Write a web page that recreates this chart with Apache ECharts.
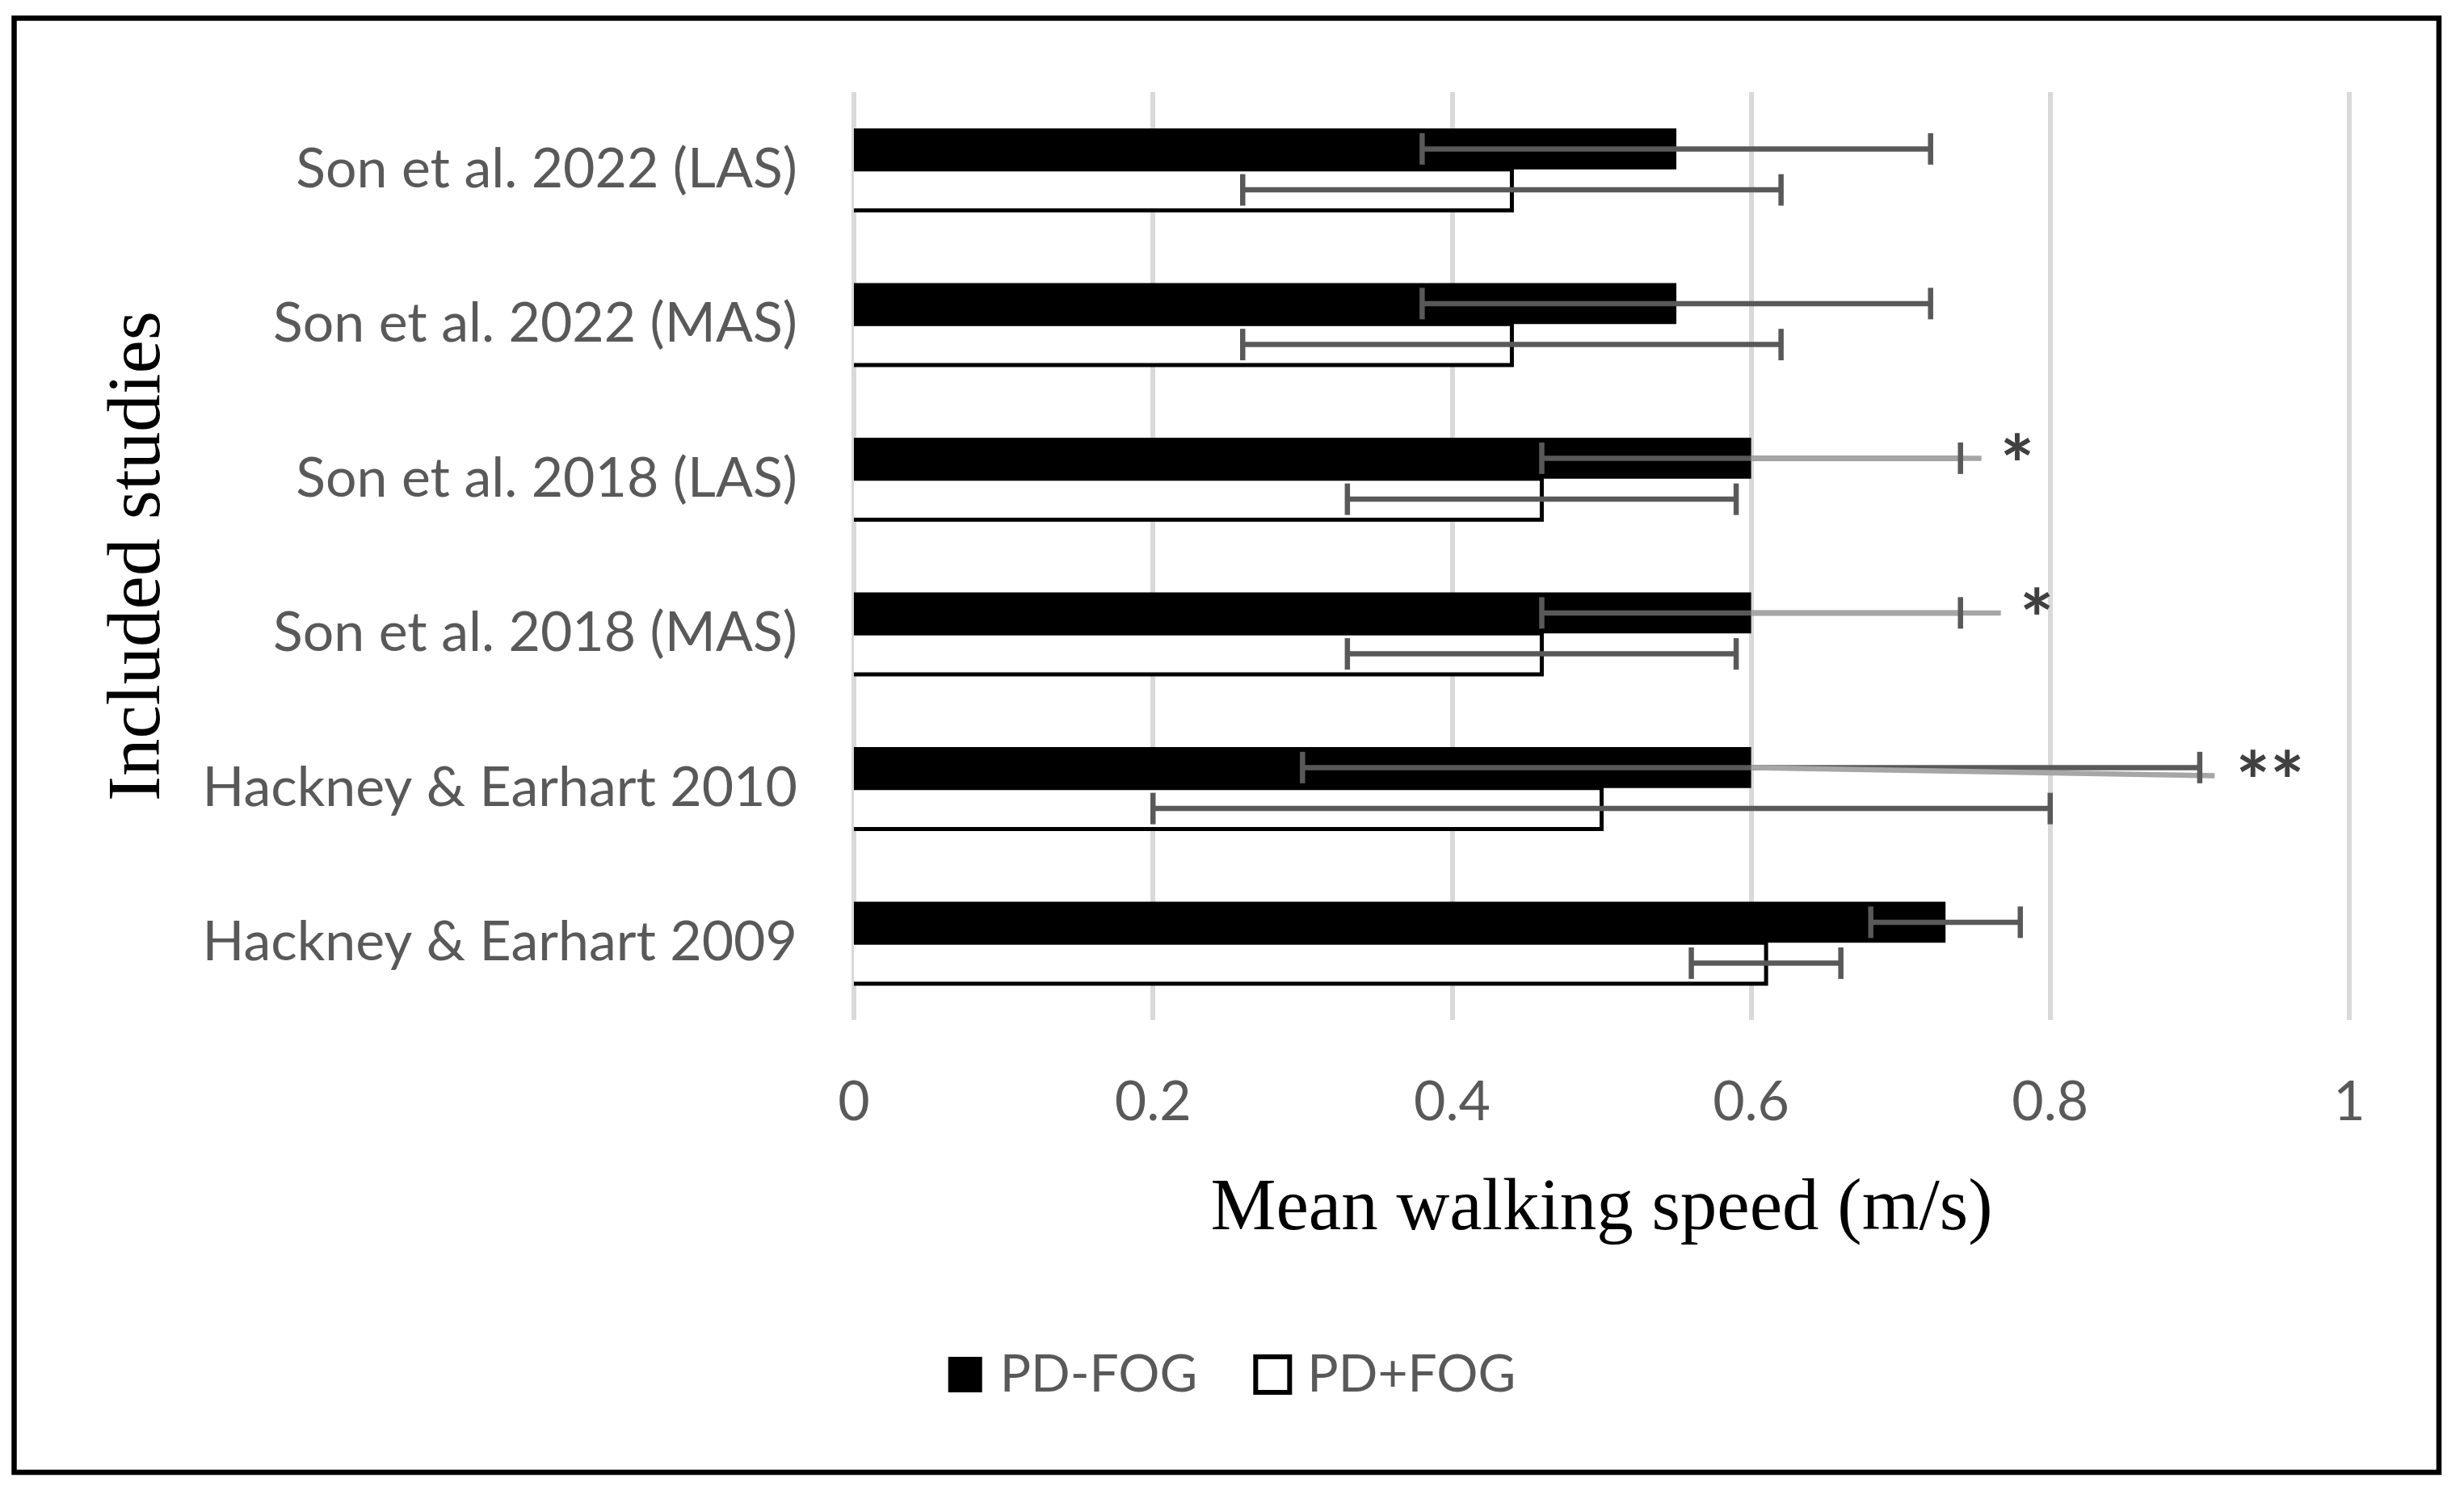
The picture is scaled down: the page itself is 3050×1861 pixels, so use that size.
<!DOCTYPE html>
<html><head><meta charset="utf-8">
<script src="https://cdn.jsdelivr.net/npm/echarts@6/dist/echarts.min.js"></script>
<style>html,body{margin:0;padding:0;background:#fff}#c{width:3050px;height:1861px}</style>
</head><body><div id="c"></div><script>
// ---- data ----
const categories = ['Son et al. 2022 (LAS)', 'Son et al. 2022 (MAS)', 'Son et al. 2018 (LAS)', 'Son et al. 2018 (MAS)', 'Hackney & Earhart 2010', 'Hackney & Earhart 2009'];
const seriesNames = ['PD-FOG', 'PD+FOG'];
const pdNoFogMean = [0.55, 0.55, 0.60, 0.60, 0.60, 0.73];
const pdNoFogSD   = [0.17, 0.17, 0.14, 0.14, 0.30, 0.05];
const pdFogMean   = [0.44, 0.44, 0.46, 0.46, 0.50, 0.61];
const pdFogSD     = [0.18, 0.18, 0.13, 0.13, 0.30, 0.05];
const connectorEnd = [null, null, 0.754, 0.767, 0.91, null];
const significance = ['', '', '*', '*', '**', ''];
const significanceAt = [null, null, 0.778, 0.791, 0.947, null];
const xTicks = [0, 0.2, 0.4, 0.6, 0.8, 1];

// ---- styles ----
const GAP = 0.47;
const ERR = '#595959', CONN = '#a6a6a6', LW = 6.5, CAP = 19.5;
const connectorDrop = [0, 0, 0, 0, 10, 0];
const sigShift = [0, 0, 0, 0, 9, 0];
const labelFont = 'Lato';
const nameFont = 'Liberation Serif';

function barHeight(api) { return api.size([0, 1])[1] * (1 - GAP) / 2; }
function barOffset(api, which) {
  const h = barHeight(api);
  return which === 0 ? -h / 2 : h / 2;
}
function errorRender(which) {
  return function (params, api) {
    const cat = api.value(0), mean = api.value(1), sd = api.value(2), ce = api.value(3);
    const off = barOffset(api, which);
    const lo = api.coord([mean - sd, cat]), hi = api.coord([mean + sd, cat]);
    const base = api.coord([0, cat]), pm = api.coord([mean, cat]);
    const y = lo[1] + off;
    const ch = [];
    if (which === 1) {
      const h = barHeight(api);
      const yt = base[1], yb = base[1] + h;
      ch.push({ type: 'polyline', shape: { points: [[base[0], yt], [pm[0], yt], [pm[0], yb], [base[0], yb]] },
        style: { stroke: '#000', lineWidth: 5, fill: null, lineJoin: 'miter' } });
    }
    ch.push({ type: 'line', shape: { x1: lo[0], y1: y, x2: hi[0], y2: y }, style: { stroke: ERR, lineWidth: LW } });
    if (ce > 0) {
      const pe = api.coord([ce, cat]);
      ch.push({ type: 'line', shape: { x1: pm[0], y1: y, x2: pe[0], y2: y + connectorDrop[params.dataIndex] }, style: { stroke: CONN, lineWidth: LW } });
    }
    ch.push({ type: 'line', shape: { x1: lo[0], y1: y - CAP, x2: lo[0], y2: y + CAP }, style: { stroke: ERR, lineWidth: LW } });
    ch.push({ type: 'line', shape: { x1: hi[0], y1: y - CAP, x2: hi[0], y2: y + CAP }, style: { stroke: ERR, lineWidth: LW } });
    return { type: 'group', children: ch };
  };
}
function sigRender(params, api) {
  const cat = api.value(0), xv = api.value(1);
  const txt = significance[params.dataIndex];
  if (!txt) return null;
  const p = api.coord([xv, cat]);
  const off = barOffset(api, 0);
  return { type: 'text', x: p[0], y: p[1] + off + 12 + sigShift[params.dataIndex],
    style: { text: txt, fill: '#404040', font: 'bold 100px ' + labelFont, align: 'center', verticalAlign: 'middle' } };
}

const errNoFog = categories.map((c, i) => [i, pdNoFogMean[i], pdNoFogSD[i], connectorEnd[i] || 0]);
const errFog = categories.map((c, i) => [i, pdFogMean[i], pdFogSD[i], 0]);
const sigData = categories.map((c, i) => [i, significanceAt[i] || 0]);

const chart = echarts.init(document.getElementById('c'));
chart.setOption({
  animation: false,
  backgroundColor: '#fff',
  grid: { left: 1057, right: 3050 - 2908, top: 114, bottom: 1861 - 1263, containLabel: false },
  xAxis: {
    type: 'value', min: xTicks[0], max: xTicks[xTicks.length - 1], interval: 0.2,
    axisLine: { show: false }, axisTick: { show: false },
    axisLabel: { color: '#595959', fontFamily: labelFont, fontSize: 68, margin: 68 },
    splitLine: { show: true, lineStyle: { color: '#d9d9d9', width: 6 } },
    name: 'Mean walking speed (m/s)', nameLocation: 'middle', nameGap: 190,
    nameTextStyle: { color: '#000', fontFamily: nameFont, fontSize: 91 }
  },
  yAxis: {
    type: 'category', data: categories, inverse: true,
    axisLine: { show: false }, axisTick: { show: false },
    axisLabel: { color: '#595959', fontFamily: labelFont, fontSize: 68, margin: 70 },
    splitLine: { show: false },
    name: 'Included studies', nameLocation: 'middle', nameGap: 838,
    nameTextStyle: { color: '#000', fontFamily: nameFont, fontSize: 93 }
  },
  legend: {
    left: 'center', top: 1665, itemWidth: 42, itemHeight: 44, itemGap: 69,
    textStyle: { color: '#595959', fontFamily: labelFont, fontSize: 64, padding: [0, 0, 0, 17] },
    data: [
      { name: seriesNames[0], icon: 'rect', itemStyle: { color: '#000', borderWidth: 0 } },
      { name: seriesNames[1], icon: 'rect', itemStyle: { color: '#fff', borderColor: '#000', borderWidth: 6 } }
    ]
  },
  series: [
    { name: seriesNames[0], type: 'bar', data: pdNoFogMean, barCategoryGap: (GAP * 100) + '%', barGap: '0%',
      itemStyle: { color: '#000' }, z: 2 },
    { name: seriesNames[1], type: 'bar', data: pdFogMean, barCategoryGap: (GAP * 100) + '%', barGap: '0%',
      itemStyle: { color: '#fff', borderWidth: 0 }, z: 2 },
    { type: 'custom', renderItem: errorRender(0), data: errNoFog, encode: { x: 1, y: 0 }, z: 5, silent: true },
    { type: 'custom', renderItem: errorRender(1), data: errFog, encode: { x: 1, y: 0 }, z: 5, silent: true },
    { type: 'custom', renderItem: sigRender, data: sigData, encode: { x: 1, y: 0 }, z: 6, silent: true }
  ],
  graphic: [
    { type: 'rect', shape: { x: 17.5, y: 22.5, width: 3001.5, height: 1800.5 }, style: { fill: 'none', stroke: '#000', lineWidth: 6.5 }, silent: true }
  ]
});
</script></body></html>
